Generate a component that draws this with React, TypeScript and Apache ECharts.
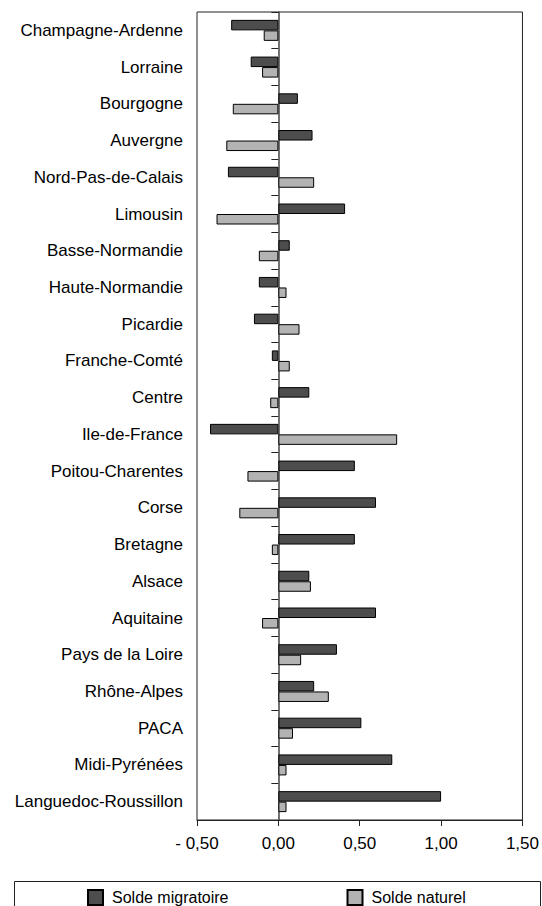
import React, { useEffect, useRef } from "react";
import * as echarts from "echarts";

const categories = [
  "Champagne-Ardenne",
  "Lorraine",
  "Bourgogne",
  "Auvergne",
  "Nord-Pas-de-Calais",
  "Limousin",
  "Basse-Normandie",
  "Haute-Normandie",
  "Picardie",
  "Franche-Comté",
  "Centre",
  "Ile-de-France",
  "Poitou-Charentes",
  "Corse",
  "Bretagne",
  "Alsace",
  "Aquitaine",
  "Pays de la Loire",
  "Rhône-Alpes",
  "PACA",
  "Midi-Pyrénées",
  "Languedoc-Roussillon",
];

const soldeMigratoire = [
  -0.29, -0.17, 0.12, 0.21, -0.31, 0.41, 0.07, -0.12, -0.15, -0.04, 0.19,
  -0.42, 0.47, 0.6, 0.47, 0.19, 0.6, 0.36, 0.22, 0.51, 0.7, 1.0,
];

const soldeNaturel = [
  -0.09, -0.1, -0.28, -0.32, 0.22, -0.38, -0.12, 0.05, 0.13, 0.07, -0.05,
  0.73, -0.19, -0.24, -0.04, 0.2, -0.1, 0.14, 0.31, 0.09, 0.05, 0.05,
];

const seriesNames = ["Solde migratoire", "Solde naturel"];
const xMin = -0.5;
const xMax = 1.5;
const xInterval = 0.5;

const FONT = '"Liberation Sans", Arial, Helvetica, sans-serif';

function fmt(v: number): string {
  const s = Math.abs(v).toFixed(2).replace(".", ",");
  return v < 0 ? "- " + s : s;
}

export default function App() {
  const ref = useRef<HTMLDivElement>(null);

  useEffect(() => {
    if (!ref.current) return;
    const chart = echarts.init(ref.current, null, { renderer: "svg" });
    chart.setOption({
      animation: false,
      backgroundColor: "#ffffff",
      textStyle: { fontFamily: FONT },
      grid: {
        left: 197,
        top: 12,
        width: 326,
        height: 808,
        show: true,
        borderColor: "#222",
        borderWidth: 1,
        backgroundColor: "transparent",
      },
      legend: {
        data: seriesNames,
        icon: "rect",
        left: 87,
        top: 889,
        itemWidth: 15,
        itemHeight: 15,
        itemGap: 118,
        padding: 0,
        textStyle: {
          fontSize: 16,
          color: "#000",
          fontFamily: FONT,
          padding: [0, 0, 0, 4],
        },
      },
      graphic: [
        {
          type: "rect",
          shape: { x: 14.5, y: 881.5, width: 526, height: 40 },
          style: { fill: "none", stroke: "#222", lineWidth: 1 },
          silent: true,
        },
      ],
      xAxis: {
        type: "value",
        min: xMin,
        max: xMax,
        interval: xInterval,
        axisLine: { show: true, onZero: false, lineStyle: { color: "#222", width: 1 } },
        axisTick: { show: true, length: 6, lineStyle: { color: "#222" } },
        splitLine: { show: false },
        axisLabel: {
          formatter: (v: number) => fmt(v),
          fontSize: 17,
          color: "#000",
          fontFamily: FONT,
          margin: 15,
        },
      },
      yAxis: [
        {
          type: "category",
          data: categories,
          inverse: true,
          position: "left",
          axisLine: { show: false, onZero: false },
          axisTick: { show: false },
          splitLine: { show: false },
          axisLabel: {
            fontSize: 17,
            color: "#000",
            fontFamily: FONT,
            margin: 14,
          },
        },
        {
          type: "category",
          data: categories,
          inverse: true,
          position: "left",
          axisLine: {
            show: true,
            onZero: true,
            onZeroAxisIndex: 0,
            lineStyle: { color: "#444", width: 1.5 },
          },
          axisTick: { show: true, length: 7, inside: false, lineStyle: { color: "#222" } },
          axisLabel: { show: false },
          splitLine: { show: false },
        },
      ],
      series: [
        {
          name: seriesNames[0],
          type: "bar",
          yAxisIndex: 0,
          data: soldeMigratoire,
          barWidth: 10.5,
          barGap: "0%",
          itemStyle: { color: "#4d4d4d", borderColor: "#000", borderWidth: 1 },
        },
        {
          name: seriesNames[1],
          type: "bar",
          yAxisIndex: 0,
          data: soldeNaturel,
          barWidth: 10.5,
          barGap: "0%",
          itemStyle: { color: "#b3b3b3", borderColor: "#000", borderWidth: 1 },
        },
      ],
    });
    return () => chart.dispose();
  }, []);

  return (
    <div
      ref={ref}
      style={{ position: "fixed", left: 0, top: 0, width: 542, height: 906 }}
    />
  );
}
